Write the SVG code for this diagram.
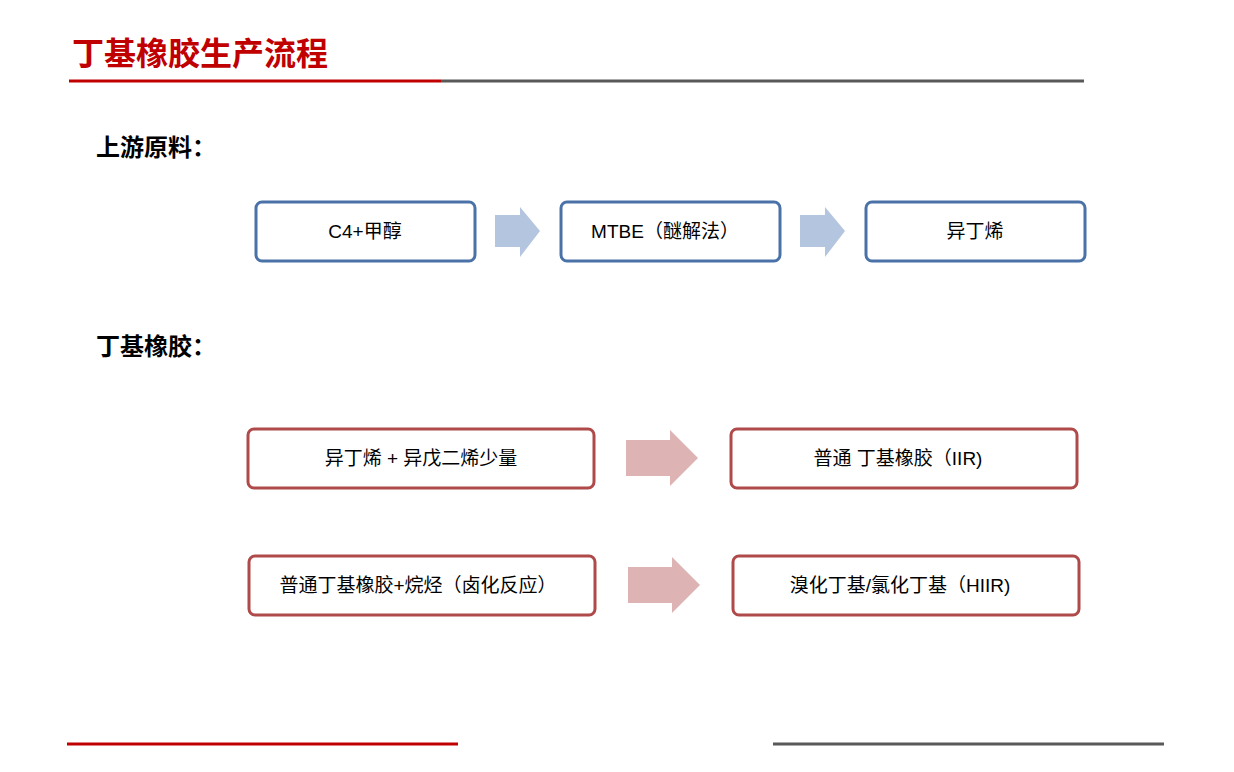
<svg xmlns="http://www.w3.org/2000/svg" width="1234" height="772" viewBox="0 0 1234 772">
<style>
text{font-family:"Liberation Sans","Noto Sans CJK SC",sans-serif}
.t{font-size:19px;fill:#000;text-anchor:middle}
.h{font-size:24px;font-weight:bold;fill:#000}
.b{fill:#fff;stroke:#4A72A8;stroke-width:3}
.r{fill:#fff;stroke:#B04A4A;stroke-width:3}
</style>
<rect width="1234" height="772" fill="#fff"/>
<text x="72" y="65" style="font-size:32px;font-weight:bold;fill:#C00000">丁基橡胶生产流程</text>
<line x1="69" y1="81" x2="441" y2="81" stroke="#C00000" stroke-width="3"/>
<line x1="441" y1="81" x2="1084" y2="81" stroke="#595959" stroke-width="3"/>
<text x="96" y="156" class="h">上游原料：</text>
<text x="96" y="355" class="h">丁基橡胶：</text>
<g id="connectors">
<polygon points="495,215 520,215 520,207 540,231 520,257 520,247 495,247" fill="#B4C5DF"/>
<polygon points="800,215 825,215 825,207 845,231 825,257 825,247 800,247" fill="#B4C5DF"/>
<polygon points="626,440 670,440 670,430 698,458 670,486 670,476 626,476" fill="#DDB3B3"/>
<polygon points="628,567 672,567 672,557 700,585 672,613 672,603 628,603" fill="#DDB3B3"/>
</g>
<g id="n1"><rect x="256" y="202" width="219" height="59" rx="6" class="b"/><text x="365" y="238" class="t">C4+甲醇</text></g>
<g id="n2"><rect x="561" y="202" width="219" height="59" rx="6" class="b"/><text x="665" y="238" class="t">MTBE（醚解法）</text></g>
<g id="n3"><rect x="866" y="202" width="219" height="59" rx="6" class="b"/><text x="975" y="238" class="t">异丁烯</text></g>
<g id="n4"><rect x="248" y="429" width="346" height="59" rx="6" class="r"/><text x="421" y="465" class="t">异丁烯 + 异戊二烯少量</text></g>
<g id="n5"><rect x="731" y="429" width="346" height="59" rx="6" class="r"/><text x="898" y="465" class="t">普通 丁基橡胶（IIR)</text></g>
<g id="n6"><rect x="249" y="556" width="346" height="59" rx="6" class="r"/><text x="418" y="592" class="t">普通丁基橡胶+烷烃（卤化反应）</text></g>
<g id="n7"><rect x="733" y="556" width="346" height="59" rx="6" class="r"/><text x="900" y="592" class="t">溴化丁基/氯化丁基（HIIR)</text></g>
<line x1="67" y1="744" x2="458" y2="744" stroke="#C00000" stroke-width="3"/>
<line x1="773" y1="744" x2="1164" y2="744" stroke="#595959" stroke-width="3"/>
</svg>
